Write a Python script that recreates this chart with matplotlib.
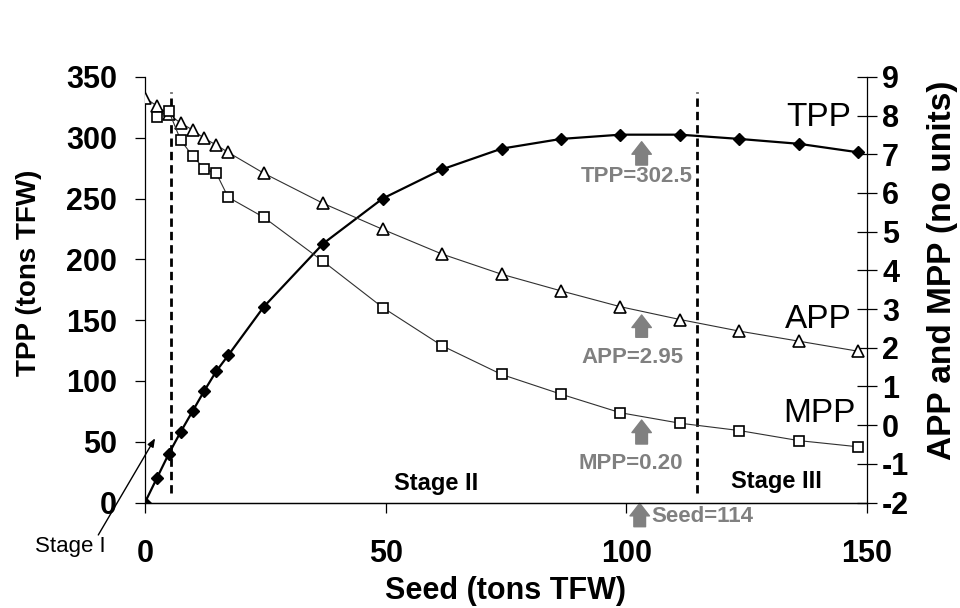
import numpy as np
import matplotlib
matplotlib.use("Agg")
import matplotlib.pyplot as plt

plt.rcParams['font.family'] = ['Liberation Sans', 'DejaVu Sans']
plt.rcParams['font.weight'] = 'bold'
plt.rcParams['axes.labelweight'] = 'bold'
plt.rcParams['axes.unicode_minus'] = False

# seed rates (tons TFW)
seed = [0, 2.47, 4.94, 7.41, 9.88, 12.35, 14.82, 17.29, 24.7, 37.05, 49.4,
        61.75, 74.1, 86.45, 98.8, 111.15, 123.5, 135.85, 148.2]
# total physical product (tons TFW)
tpp = [0, 20, 40, 58, 75, 92, 108, 121, 161, 213, 250,
       274, 291, 299, 302.5, 302.5, 299, 295, 288]
# average physical product
app = [8.46, 8.25, 8.03, 7.81, 7.63, 7.41, 7.24, 7.05, 6.51, 5.73, 5.06,
       4.42, 3.90, 3.47, 3.06, 2.73, 2.43, 2.17, 1.91]
# marginal physical product (none at zero seed)
mpp = [np.nan, 7.97, 8.12, 7.37, 6.96, 6.62, 6.51, 5.89, 5.37, 4.23, 3.04,
       2.05, 1.31, 0.80, 0.32, 0.05, -0.14, -0.40, -0.56]

stage_bounds = [5.5, 114.8]
gray = '#808080'

fig = plt.figure(figsize=(9.6, 6.08), dpi=100)
ax = fig.add_axes([0.151, 0.1735, 0.752, 0.70])
ax2 = ax.twinx()

ax.plot(seed, tpp, color='black', lw=1.6, marker='D', ms=6, mfc='black',
        mec='black', zorder=3)
ax2.plot(seed, app, color='#303030', lw=0.8, marker='^', ms=8.5, mfc='white',
         mec='black', mew=1.2, zorder=3)
ax2.plot(seed, mpp, color='#303030', lw=0.8, marker='s', ms=7, mfc='white',
         mec='black', mew=1.2, zorder=3)

for xb in stage_bounds:
    ax.plot([xb, xb], [8, 338], color='black', lw=2, ls=(0, (3, 1.8)), zorder=2)

ax.set_xlim(0, 150)
ax.set_ylim(0, 350)
ax2.set_ylim(-2, 9)
ax.set_xticks([0, 50, 100, 150])
ax.set_yticks(np.arange(0, 351, 50))
ax2.set_yticks(np.arange(-2, 10, 1))

for a in (ax, ax2):
    a.spines['top'].set_visible(False)
    for s in a.spines.values():
        s.set_linewidth(0.9)
ax.spines['right'].set_visible(False)
ax2.spines['left'].set_visible(False)

ax.tick_params(axis='x', direction='out', length=7, width=0.9, pad=19, labelsize=22)
ax.tick_params(axis='y', direction='out', length=7, width=0.9, pad=13, labelsize=22)
ax2.tick_params(axis='y', direction='inout', length=14, width=0.9, pad=4, labelsize=22)

ax.set_xlabel('Seed (tons TFW)', fontsize=22, labelpad=5)
ax.set_ylabel('TPP (tons TFW)', fontsize=20)
ax2.set_ylabel('APP and MPP (no units)', fontsize=24)
ax.yaxis.set_label_coords(-0.142, 0.54)
ax2.yaxis.set_label_coords(1.083, 0.545)

# curve labels
ax.text(140, 317, 'TPP', fontsize=24, ha='center', va='center', fontweight='normal')
ax.text(140, 150.9, 'APP', fontsize=24, ha='center', va='center', fontweight='normal')
ax.text(140.2, 72.8, 'MPP', fontsize=24, ha='center', va='center', fontweight='normal')

# stage labels
ax.text(60.6, 16, 'Stage II', fontsize=17, ha='center', va='center')
ax.text(131.2, 17, 'Stage III', fontsize=17, ha='center', va='center')
ax.text(-15.6, -36.3, 'Stage I', fontsize=16, ha='center', va='center',
        fontweight='normal')
ax.annotate('', xy=(2.1, 52.8), xytext=(-9.7, -26.7), annotation_clip=False,
            arrowprops=dict(arrowstyle='-|>,head_length=0.5,head_width=0.2',
                            color='black', lw=1, shrinkA=0, shrinkB=0))

# gray marker arrows and values
arrow_kw = dict(arrowstyle='simple,head_width=0.7,head_length=0.45,tail_width=0.42',
                color=gray, shrinkA=0, shrinkB=0, mutation_scale=20)
for x0, tip, base in [(103.2, 296.7, 277.5), (103.2, 154.2, 135.9),
                      (103.2, 67.8, 48.1), (102.8, -0.7, -19.9)]:
    ax.annotate('', xy=(x0, tip), xytext=(x0, base), annotation_clip=False,
                arrowprops=arrow_kw)

ax.text(102.2, 268.1, 'TPP=302.5', fontsize=16, color=gray, ha='center', va='center')
ax.text(101.3, 119.4, 'APP=2.95', fontsize=16, color=gray, ha='center', va='center')
ax.text(100.9, 31.7, 'MPP=0.20', fontsize=16, color=gray, ha='center', va='center')
ax.text(105.3, -11.1, 'Seed=114', fontsize=16, color=gray, ha='left', va='center')

fig.savefig('out.png', dpi=100)
